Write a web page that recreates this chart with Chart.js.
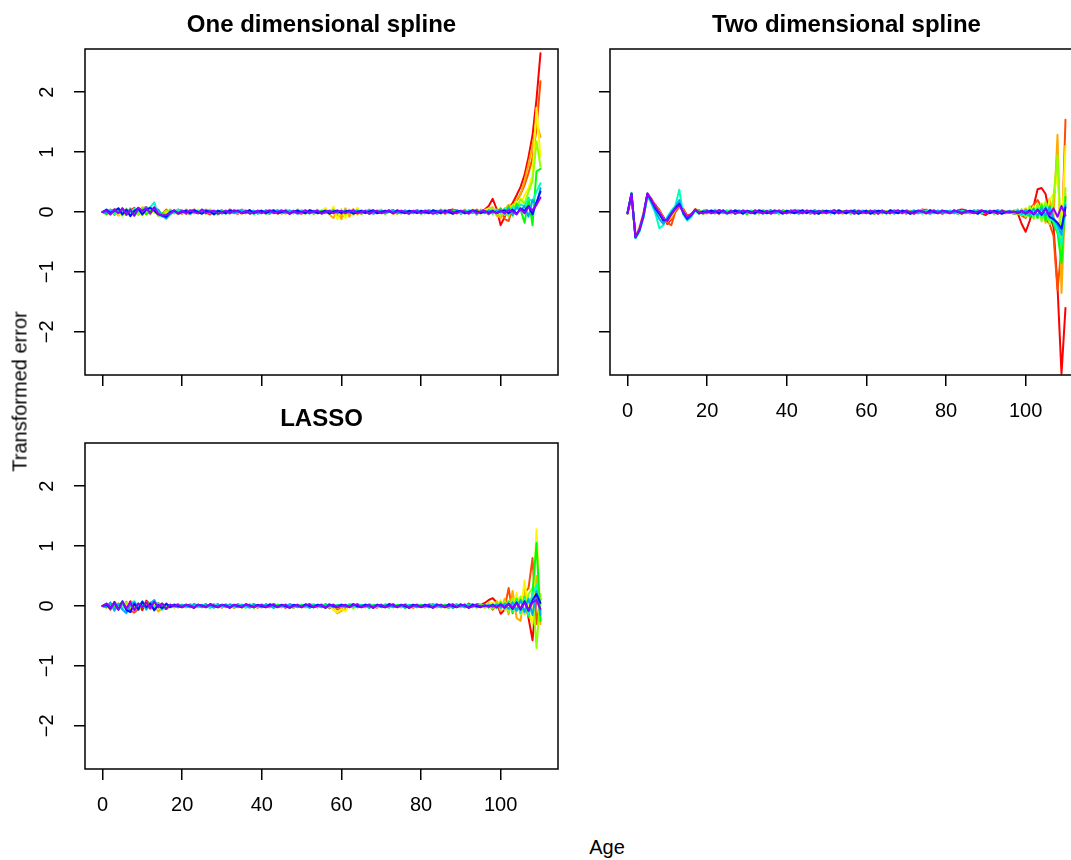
<!DOCTYPE html>
<html>
<head>
<meta charset="utf-8">
<script src="https://cdn.jsdelivr.net/npm/chart.js@4.4.1/dist/chart.umd.min.js"></script>
<style>
  body { margin: 0; width: 1071px; height: 860px; overflow: hidden; position: relative; background: #fff; }
  canvas { position: absolute; }
  .lbl { position: absolute; font-family: "Liberation Sans", Arial, sans-serif; font-size: 20px; color: #000; white-space: nowrap; }
</style>
</head>
<body>
<canvas id="c1" width="538" height="435" style="left:25px;top:0"></canvas>
<canvas id="c2" width="538" height="435" style="left:550px;top:0"></canvas>
<canvas id="c3" width="538" height="435" style="left:25px;top:394px"></canvas>
<div class="lbl" style="left:-130px;top:380px;width:300px;text-align:center;transform:rotate(-90deg)">Transformed error</div>
<div class="lbl" style="left:507px;top:836px;width:200px;text-align:center">Age</div>
<script>
// errors in hundredths, one row per series (red first, purple last), ages 0..110
const ages = Array.from({ length: 111 }, (_, i) => i);
const xTicks = [0, 20, 40, 60, 80, 100];
const yTicks = [-2, -1, 0, 1, 2];

const oneDim = [
  [0,1,-4,5,-3,6,-5,2,7,-4,6,8,3,7,-2,-6,-4,3,-2,4, 2,-3,1,4,-2,3,-1,-4,2,0,3,-2,4,-1,-3,2,0,3,-2,1, 2,-1,-3,2,0,3,-2,1,2,-1,-3,2,0,-1,3,-2,1,2,-2,3, -3,2,1,-2,3,-1,2,-3,1,2,0,-2,1,3,-1,-2,2,0,-1,2, -2,1,3,-1,-2,2,0,3,4,2,-3,1,2,0,-2,2,4,10,22,5, -22,-8,6,15,28,42,62,92,128,188,265],
  [0,-2,4,-5,6,-3,5,-4,2,7,-5,8,2,5,-6,-3,4,-2,3,0, -3,4,0,-2,3,-1,4,-3,1,2,-2,0,3,-2,1,4,-2,0,2,-1, -2,3,0,2,-3,1,2,-1,-2,3,0,-2,3,1,-2,0,3,1,4,-6, -8,-4,3,-1,2,-3,1,2,0,-2,3,-1,2,-3,0,1,2,-2,1,3, 0,-2,3,-1,1,2,-3,0,4,2,-1,-2,3,0,4,-1,3,-3,5,-4, 3,-12,-15,8,18,30,45,65,90,140,218],
  [0,3,-2,2,-6,4,2,-6,4,-2,8,4,-4,6,2,-8,-2,4,0,-3, 2,0,-4,3,1,-2,2,4,-3,0,2,1,-2,3,0,-3,2,1,-2,3, 0,-2,3,1,2,-3,0,2,1,-2,3,0,2,-3,1,2,5,-4,-10,3, -12,6,-8,5,-4,2,1,-2,3,0,-2,2,1,-3,2,0,1,2,-2,0, 2,1,-2,3,0,-2,2,1,-3,2,0,4,-2,2,-5,4,-2,5,8,-6, -10,4,12,9,20,30,52,80,110,150,125],
  [0,-2,2,4,-4,-2,6,-4,2,4,-6,2,6,-2,4,-4,0,-2,2,-4, 0,2,-3,1,4,-2,0,3,-4,2,1,-2,3,0,-2,2,1,-3,0,2, -2,1,3,-2,0,2,-3,1,2,0,-2,3,1,-2,4,-2,7,-5,9,-12, 5,-10,4,-6,7,-2,2,1,-2,3,0,-2,2,1,-3,2,0,2,-2,1, 0,2,-2,1,3,0,-2,2,1,-3,2,0,-2,4,0,-3,3,6,-4,2, 7,-5,10,4,18,12,28,40,62,174,92],
  [0,2,-4,2,4,-6,2,4,-2,-4,6,-2,4,2,-6,-4,2,0,-2,2, -2,1,3,-2,2,0,-3,4,1,-2,2,0,-3,2,1,-2,3,0,2,-2, 1,2,-2,0,3,-2,4,1,-2,2,0,-3,1,2,-2,0,3,-2,4,-3, 2,-4,2,1,-2,3,0,-2,2,1,4,-2,0,2,-3,1,2,0,-2,2, 0,-2,3,1,2,-3,4,0,-2,2,1,-2,3,0,-2,2,-2,3,6,-3, -6,5,-8,12,6,22,14,34,52,118,76],
  [0,-4,2,-2,4,2,-4,6,-2,2,4,-4,2,8,-4,-2,-6,2,0,2, 2,-2,1,3,-2,4,-1,0,2,-4,1,2,-2,0,3,1,-2,2,-3,1, 2,-3,1,2,0,-2,3,1,-2,4,-2,0,2,-3,1,2,-2,0,3,1, -2,3,0,-2,2,-3,1,4,-2,0,2,-3,1,2,0,-2,3,-2,1,2, -3,1,2,-2,0,4,-2,1,2,0,-2,3,0,-2,2,-2,2,-4,3,-2, 6,-4,10,-6,14,4,-18,24,-22,68,72],
  [0,2,4,-4,2,-2,4,-2,6,2,-4,4,8,16,-5,-7,-9,2,-2,4, 0,2,-3,1,2,-2,3,0,-2,2,1,-3,2,0,-2,3,2,0,-3,1, 2,0,-3,2,1,-2,0,3,-2,1,2,0,-3,2,1,-2,3,0,-2,2, 1,-2,3,0,-2,2,1,-3,2,0,-2,1,3,-2,0,2,1,-3,2,0, -2,3,0,-2,2,1,3,-2,0,2,-3,1,2,0,-2,2,-1,2,-3,4, -2,6,-4,8,5,12,10,22,18,34,48],
  [0,-2,2,4,-2,6,-4,2,-6,4,2,8,-2,6,4,-6,-11,-4,2,-2, 2,0,-3,2,-2,1,3,-2,0,2,-3,2,1,-2,0,3,-2,1,2,-3, 0,2,-2,1,3,0,-2,2,1,-3,0,2,-2,1,3,-2,0,2,1,-2, 2,1,-2,0,3,-2,2,1,-3,0,2,-2,1,3,-2,0,2,1,-2,3, 0,-2,2,1,-3,0,2,1,-2,3,0,-2,1,2,-3,1,-2,3,-1,2, 4,-3,6,-5,8,2,10,-8,20,12,40],
  [0,4,-2,2,6,-4,4,-7,2,6,-4,4,7,2,-4,-6,-8,0,2,-3, 0,2,-2,3,0,-3,2,1,-4,2,0,-2,3,1,2,-2,0,3,-2,1, 2,-2,1,3,-2,0,2,-3,1,2,0,-2,3,1,-2,0,2,-3,1,2, -2,1,2,-3,0,2,-2,1,3,-2,0,2,1,-2,3,0,-2,2,1,-2, 2,0,-2,3,1,-2,2,0,-3,1,2,-2,0,3,1,-2,1,-1,2,-2, 1,3,-2,4,-3,6,2,10,-4,16,34],
  [0,2,-4,4,-2,6,-4,4,-6,7,2,6,-2,8,-3,-6,-5,-2,3,-2, 2,-2,3,0,-2,4,-2,1,2,-3,0,2,-2,3,1,-2,2,-3,0,2, -2,1,3,-2,0,2,1,-3,2,-2,0,3,-2,1,2,-3,0,2,-2,1, 2,-2,1,3,-2,0,2,-3,1,2,-2,0,3,-2,1,2,0,-3,2,1, -2,2,1,-3,0,2,-2,3,0,-2,2,1,-3,2,-2,1,2,-3,1,-2, 2,-2,3,1,-4,5,-2,8,3,12,24]
];

const twoDim = [
  [-3,28,-40,-28,-8,26,18,12,2,-8,-20,-12,2,10,4,-6,-4,4,-3,2, 3,-2,1,-3,2,0,-2,3,1,-2,2,0,-3,2,-1,1,3,-2,0,2, -2,3,0,-2,2,1,-3,2,0,2,-2,1,3,-2,0,2,-1,3,0,-2, 2,0,-3,2,1,-2,3,-2,0,2,-3,2,0,-2,4,3,-2,0,2,-3, 0,2,-2,3,4,3,-2,0,2,-3,-5,0,2,-2,3,0,1,-3,-2,-20, -33,-15,10,38,40,30,-5,-25,-125,-270,-160],
  [-1,29,-41,-26,-2,28,22,10,4,-10,-18,-22,0,8,6,-8,-3,2,3,-2, -2,3,0,2,-2,1,3,-2,1,0,-3,2,0,2,-2,1,2,0,-2,3, 0,-2,2,1,-2,3,0,3,-2,0,2,-2,1,2,0,-2,2,1,-2,2, 1,2,-2,0,3,-2,1,2,0,-2,3,1,-2,2,0,4,-2,0,2,1, -2,2,0,-3,2,1,-2,3,0,-2,2,1,-2,3,0,-2,2,-1,4,-6, -10,5,12,20,8,-12,-20,-40,-130,-60,154],
  [-2,31,-43,-32,-6,29,20,6,-2,-14,-16,-10,4,10,2,-12,-6,5,2,-3, 2,0,-2,3,1,3,-2,0,2,-2,1,2,-3,0,2,-2,1,3,0,-2, 2,1,-2,3,-2,0,2,1,-2,3,0,-2,2,1,-3,2,0,-2,3,1, -2,2,1,-3,2,0,-2,3,1,-2,2,0,-3,2,4,-3,2,0,-2,3, 1,-2,2,0,-3,2,1,-2,3,0,-2,2,1,-3,2,0,-1,2,3,-2, 6,-4,8,-10,14,-18,22,-8,129,-135,30],
  [-2,30,-40,-29,-4,31,19,9,1,-11,-14,-6,6,11,1,-9,-5,3,-2,1, 0,2,-2,3,0,-2,3,-2,1,2,-3,0,2,-2,1,3,-2,0,2,1, -2,2,1,-2,3,0,-2,2,1,-3,2,0,-2,3,1,-2,2,0,-3,2, 1,-2,2,0,-3,2,1,-2,3,0,-2,2,-3,2,0,-2,3,1,-2,2, 0,-2,2,1,-3,2,0,-2,3,1,-2,2,0,-3,2,0,2,-2,4,-3, 5,-6,10,-8,15,-12,20,30,60,-40,110],
  [-3,31,-42,-31,-5,30,21,7,0,-13,-15,-4,5,12,0,-11,-4,4,-2,1, 2,-2,0,3,-2,1,2,-3,3,0,-2,2,1,-3,2,0,-2,3,0,-2, 2,0,-2,3,1,-2,2,0,-3,2,1,-2,3,0,-2,2,1,-3,2,0, -2,3,0,-2,2,1,-3,2,0,-2,3,1,-2,2,0,-3,2,1,-2,3, 0,-2,2,1,-3,2,0,-2,3,1,-2,2,0,-3,2,0,-2,3,-4,5, -8,10,-12,14,-16,18,-20,25,95,-65,40],
  [-2,29,-41,-30,-7,28,17,5,-4,-15,-12,-2,7,14,-2,-12,-6,3,2,-3, 2,0,-2,3,-2,0,2,-3,1,2,-4,2,0,-2,3,1,-2,2,-3,1, 2,-2,1,3,-2,0,2,-3,1,2,-2,0,3,-2,1,2,-3,0,2,-2, 0,2,-3,1,2,-2,0,3,-2,1,2,-3,0,2,-2,1,3,-2,0,2, -2,1,2,-3,0,2,-2,1,3,-2,0,2,-3,1,2,0,1,-3,2,-5, 4,-8,6,-10,12,-14,10,-20,-35,-85,25],
  [-1,32,-44,-33,-10,27,14,-2,-27,-22,-8,2,10,37,-4,-14,-8,2,-3,2, 0,-2,4,-2,0,2,-2,1,3,-2,0,2,-3,1,2,-2,0,3,-2,1, -2,1,2,3,-2,0,-2,2,1,0,2,-3,2,1,-2,0,2,-3,1,2, 2,-2,1,0,2,-3,2,1,-2,3,0,-2,1,2,-3,2,0,-2,1,2, -2,2,1,-3,2,0,-2,1,2,-3,2,0,-2,3,0,-2,2,-3,4,-5, -5,3,-7,6,-8,10,-12,-15,-30,-55,15],
  [-2,30,-43,-31,-8,30,16,2,-12,-20,-10,0,8,20,-3,-13,-7,3,0,-2, 2,0,-2,3,0,-3,1,2,-2,3,0,-2,2,1,-3,0,2,-2,3,0, -2,2,1,-3,0,2,-2,3,0,-2,1,2,-3,2,0,-2,1,3,-2,2, 0,-2,3,1,-2,0,2,-3,2,1,-2,0,3,-2,2,0,-3,1,2,-2, 2,1,-2,3,0,-2,1,2,-3,2,0,-2,1,3,-2,0,2,-1,2,-3, 3,-4,5,-6,6,-5,8,-10,-22,-38,12],
  [-2,31,-42,-30,-6,31,19,6,-3,-14,-13,-3,6,14,-1,-11,-5,4,-2,1, 0,2,1,-2,3,-2,0,2,1,-3,2,0,-2,3,1,-2,0,2,1,-3, 2,0,-2,1,3,-2,2,0,-3,1,2,0,-2,3,0,-2,2,1,-3,0, 2,-3,0,2,1,-2,3,0,-2,2,1,-3,0,2,1,-2,3,0,-2,2, 1,-2,3,0,-2,1,2,0,-3,2,1,-2,2,0,-3,0,-1,1,-2,2, -3,3,-4,4,-5,6,-8,-12,-18,-28,8],
  [-2,30,-42,-29,-4,31,21,9,0,-11,-15,-4,5,11,1,-9,-4,4,-1,-2, 2,-2,0,3,1,-2,2,-3,0,2,1,-2,3,0,-2,2,-3,1,2,0, -2,1,3,0,-2,2,1,-3,2,0,-2,1,3,-2,0,2,1,-3,2,0, -2,2,1,-3,2,0,-2,1,3,-2,2,0,-3,2,1,-2,0,3,-2,2, 0,-2,2,1,-3,2,0,-2,1,3,-2,2,0,-3,2,0,1,0,-1,2, -2,1,-3,3,-2,4,-5,6,-8,10,-6]
];

const lasso = [
  [0,3,-6,7,-2,5,-4,8,-5,4,-7,9,2,-4,5,-2,-5,2,0,3, -2,2,0,-3,2,1,3,-2,0,3,-2,1,2,-3,0,2,-2,1,3,0, -2,3,0,-2,2,1,-3,2,0,2,-2,0,3,-2,1,2,-3,3,-2,0, 2,-2,1,3,-2,0,2,1,-3,2,0,-2,3,1,-2,0,2,-3,1,2, 0,-2,3,1,-2,2,0,-3,2,1,3,-2,4,-1,3,2,5,10,13,6, -13,-6,4,-3,9,-8,14,-20,-57,18,-8],
  [0,-2,4,-5,2,-4,7,-8,-11,-5,4,-2,5,-7,2,4,-4,0,2,-2, 0,2,-2,3,0,-2,3,-2,0,2,-3,2,0,-2,3,1,-2,2,0,-3, 2,0,-2,3,1,-2,2,0,-3,1,2,-2,0,3,-2,0,3,-4,2,-6, -4,2,0,-2,3,1,-2,2,0,-3,2,1,-2,3,0,-2,2,1,-3,0, 2,-2,1,3,-2,0,2,-3,1,3,-2,2,-3,2,-1,3,-2,4,-6,3, 8,-4,30,-12,18,-10,22,30,80,-30,12],
  [0,2,-2,4,-4,6,-2,-4,5,-7,4,2,-5,3,-9,-4,2,-2,3,0, -2,2,0,-3,2,1,-2,3,2,-2,0,3,-2,0,2,-3,1,2,-2,0, 2,-2,1,3,-2,0,2,1,-3,2,0,-2,3,1,-2,3,-2,2,-5,-12, -8,-5,3,-2,2,0,-2,3,1,-2,2,0,-3,2,1,-2,3,0,-2,2, 0,-2,3,1,-2,2,0,-3,2,1,-2,3,-2,2,-3,2,-3,5,-4,8, -8,12,-14,25,-20,-25,28,-15,20,50,-30],
  [0,-3,2,-2,5,-4,4,-2,-5,4,-2,6,-4,2,-4,5,-2,2,-3,2, 2,-2,0,3,-2,1,2,-3,0,2,-2,3,-2,0,2,-3,1,2,-2,0, 0,2,-2,1,3,-2,0,2,-3,1,2,-2,0,3,-2,2,-3,4,-7,-10, -5,-9,3,-5,2,0,-2,3,1,-2,2,0,-3,2,1,-2,3,0,-2,2, -2,0,3,-2,1,2,-3,0,2,-2,1,3,-2,3,-1,3,-2,4,6,-3, 10,-6,8,-10,22,-14,43,-10,-30,128,-20],
  [0,2,-4,4,-2,-4,6,-2,4,-6,2,-4,4,6,-2,-4,2,-2,0,2, -2,0,3,-2,1,2,-2,0,3,1,-2,2,0,-3,2,1,-2,3,0,-2, 2,1,-2,3,0,-2,2,-3,1,2,-2,0,3,-2,1,2,-3,0,3,-3, 2,-2,1,3,-2,0,2,-3,1,2,-2,0,3,1,-2,2,-3,0,2,-2, 1,2,-2,0,3,-2,1,2,-3,0,2,-2,1,3,-2,2,-2,3,-4,5, -5,8,-10,12,-8,16,-14,20,30,-70,20],
  [0,-2,4,-2,2,6,-4,2,-4,4,-2,6,2,-4,4,-2,-4,2,-2,0, 2,-2,0,3,-2,1,2,-3,3,-2,0,2,-2,1,3,-2,0,2,-3,1, -2,2,1,-3,2,0,-2,3,1,-2,2,0,-3,2,1,-2,3,0,-2,2, 0,-2,3,1,-2,2,0,-3,2,1,-2,3,0,-2,2,1,-3,2,0,-2, 2,0,-2,3,1,-2,2,0,-3,2,1,-2,3,-2,2,-1,2,-3,3,-4, 6,-5,8,-10,12,-12,15,-18,22,105,-25],
  [0,4,-2,6,-4,2,-6,4,8,-2,4,-4,6,-2,4,-6,2,0,-2,2, 0,-2,3,1,-2,2,0,-3,2,1,-2,3,0,-2,2,1,-3,2,0,-2, 2,1,-2,3,0,-2,2,1,-3,2,0,-2,3,1,-2,2,0,-3,2,1, -2,2,0,-3,2,1,-2,3,0,-2,2,1,-3,2,0,-2,3,1,-2,2, 0,-2,3,1,-2,2,0,-3,2,1,-2,3,0,-2,2,-1,2,-2,3,-3, 4,-5,6,-8,10,-12,14,-15,20,35,-12],
  [0,-2,6,-8,4,-6,-12,2,6,-4,8,-6,4,10,-2,4,-4,2,0,-2, 2,0,-2,3,1,-2,2,0,-3,2,1,-2,3,0,-2,2,1,-3,2,0, -2,2,1,-3,0,2,-2,3,1,-2,0,2,-3,1,2,-2,0,3,-2,1, 2,-2,0,3,-2,1,2,-3,0,2,-2,1,3,-2,0,2,-3,1,2,-2, 0,2,-2,1,3,-2,0,2,-3,1,2,-2,0,3,-2,1,-1,2,-2,3, -3,4,-5,6,-8,10,-10,12,-15,25,-15],
  [0,2,-4,6,-6,8,-7,-10,4,-6,7,-2,4,-7,2,-4,4,-2,2,0, -2,2,0,-3,2,1,-2,3,0,-2,2,1,-3,2,0,-2,3,1,-2,2, 0,-2,3,1,-2,2,0,-3,2,1,-2,3,0,-2,2,1,-3,2,0,-2, 2,1,-2,3,0,-2,2,1,-3,2,0,-2,3,1,-2,2,0,-3,2,1, -2,2,0,-3,2,1,-2,3,0,-2,2,1,-3,2,0,-2,1,-1,2,-2, 3,-3,4,-5,6,-6,8,-8,10,20,5],
  [0,4,-2,4,-6,7,-4,6,-7,4,-2,6,-4,7,-2,4,-5,2,0,2, -2,2,1,-3,2,0,-2,3,1,-2,2,0,-3,2,1,-2,3,0,-2,1, 2,-2,0,3,-2,1,2,-3,0,2,-2,1,3,-2,0,2,-3,1,2,-2, 0,2,-2,1,3,-2,0,2,-3,1,2,-2,0,3,-2,1,2,-3,0,2, -2,0,2,-3,1,2,-2,0,3,-2,1,2,-3,0,2,-1,1,-1,1,-2, 2,-2,3,-3,4,-4,5,-6,6,10,-5]
];

const FONT = '"Liberation Sans", Arial, sans-serif';
// rainbow hues, red -> purple
const hues = [0, 18, 40, 58, 85, 120, 165, 200, 235, 275];

function fmt(v) {
  return v < 0 ? '\u2212' + Math.abs(v) : String(v);
}

// plot frame like R's box()
const boxPlugin = {
  id: 'box',
  afterDraw(chart) {
    const { ctx, chartArea: a } = chart;
    ctx.save();
    ctx.strokeStyle = '#000';
    ctx.lineWidth = 1.5;
    ctx.strokeRect(a.left, a.top, a.right - a.left, a.bottom - a.top);
    ctx.restore();
  }
};

function makePanel(id, title, series, showX, showY) {
  const tickGrid = { drawOnChartArea: false, drawTicks: true, tickLength: 11, color: '#000', lineWidth: 1.5 };
  return new Chart(document.getElementById(id), {
    type: 'line',
    data: {
      labels: ages,
      datasets: series.map((vals, i) => ({
        data: vals.map(v => v / 100),
        borderColor: `hsl(${hues[i]},100%,50%)`,
        borderWidth: 2,
        pointRadius: 0,
        tension: 0,
        borderJoinStyle: 'round',
        borderCapStyle: 'round',
        order: series.length - i
      }))
    },
    options: {
      responsive: false,
      animation: false,
      events: [],
      layout: { padding: { left: 0, right: 5, top: 0, bottom: 0 } },
      plugins: {
        legend: { display: false },
        tooltip: { enabled: false },
        title: {
          display: true, text: title, color: '#000', fullSize: false,
          font: { family: FONT, size: 24, weight: 'bold', lineHeight: 1.25 },
          padding: { top: 10, bottom: 9 }
        }
      },
      scales: {
        x: {
          type: 'linear', min: -4.4, max: 114.4,
          afterBuildTicks: s => { s.ticks = xTicks.map(v => ({ value: v })); },
          afterFit: s => { s.height = 60; },
          grid: tickGrid,
          border: { display: false },
          ticks: { display: showX, color: '#000', font: { family: FONT, size: 20 }, padding: 13, maxRotation: 0, callback: fmt }
        },
        y: {
          min: -2.72, max: 2.72,
          afterBuildTicks: s => { s.ticks = yTicks.map(v => ({ value: v })); },
          afterFit: s => { s.width = 60; },
          grid: tickGrid,
          border: { display: false },
          ticks: { display: showY, color: '#000', font: { family: FONT, size: 20 }, padding: 15, minRotation: 90, maxRotation: 90, crossAlign: 'center', callback: fmt }
        }
      }
    },
    plugins: [boxPlugin]
  });
}

makePanel('c1', 'One dimensional spline', oneDim, false, true);
makePanel('c2', 'Two dimensional spline', twoDim, true, false);
makePanel('c3', 'LASSO', lasso, true, true);
</script>
</body>
</html>
